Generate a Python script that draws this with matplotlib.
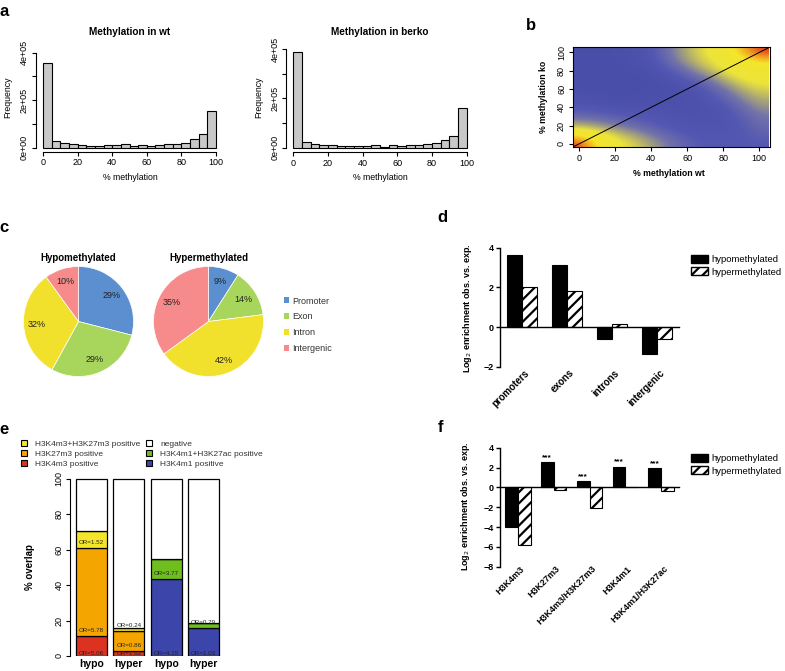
import numpy as np
import matplotlib
matplotlib.use("Agg")
import matplotlib.pyplot as plt
from matplotlib.patches import Patch
from matplotlib.colors import LinearSegmentedColormap

plt.rcParams['font.family'] = ['Liberation Sans', 'DejaVu Sans']
plt.rcParams['hatch.linewidth'] = 1.6
plt.rcParams['axes.linewidth'] = 0.8

# ---- a: histograms of % methylation (5% bins) ----
hist_edges = np.arange(0, 101, 5)
wt_freq = [3.58e5, 2.8e4, 1.8e4, 1.4e4, 1.3e4, 0.8e4, 0.8e4, 1.0e4, 1.0e4, 1.4e4,
           0.7e4, 1.3e4, 0.8e4, 1.0e4, 1.4e4, 1.7e4, 2.1e4, 3.6e4, 5.7e4, 1.55e5]
berko_freq = [3.88e5, 2.4e4, 1.5e4, 1.2e4, 1.0e4, 0.8e4, 0.8e4, 0.8e4, 0.7e4, 1.0e4,
              0.5e4, 1.0e4, 0.8e4, 1.0e4, 1.2e4, 1.4e4, 1.9e4, 3.1e4, 4.7e4, 1.6e5]

# ---- b: smoothed density wt vs ko, grid every 10% (rows = ko, cols = wt) ----
dens_pos = np.arange(0, 101, 10)
dens = [
    [1.00, 0.72, 0.58, 0.52, 0.42, 0.30, 0.20, 0.15, 0.15, 0.15, 0.15],
    [0.72, 0.62, 0.52, 0.43, 0.32, 0.22, 0.15, 0.12, 0.12, 0.14, 0.20],
    [0.46, 0.41, 0.33, 0.25, 0.18, 0.12, 0.10, 0.10, 0.10, 0.15, 0.25],
    [0.25, 0.22, 0.18, 0.14, 0.12, 0.10, 0.08, 0.08, 0.10, 0.18, 0.30],
    [0.12, 0.10, 0.08, 0.08, 0.08, 0.06, 0.06, 0.08, 0.12, 0.25, 0.38],
    [0.06, 0.05, 0.04, 0.04, 0.05, 0.05, 0.06, 0.10, 0.20, 0.35, 0.45],
    [0.04, 0.03, 0.03, 0.03, 0.04, 0.05, 0.08, 0.15, 0.30, 0.45, 0.52],
    [0.03, 0.03, 0.03, 0.03, 0.04, 0.08, 0.15, 0.28, 0.45, 0.55, 0.58],
    [0.03, 0.03, 0.03, 0.04, 0.06, 0.15, 0.30, 0.45, 0.55, 0.60, 0.62],
    [0.03, 0.03, 0.04, 0.05, 0.10, 0.25, 0.42, 0.52, 0.58, 0.66, 0.76],
    [0.03, 0.03, 0.04, 0.06, 0.12, 0.30, 0.45, 0.55, 0.62, 0.80, 1.00],
]

# ---- c: genomic distribution (%) ----
pie_labels = ['Promoter', 'Exon', 'Intron', 'Intergenic']
hypo_pct = [29, 29, 32, 10]
hyper_pct = [9, 14, 42, 35]
pie_colors = ['#5B8FD0', '#A8D65C', '#F2E12C', '#F78A8A']

# ---- d: log2 enrichment by genomic feature ----
d_cats = ['promoters', 'exons', 'introns', 'intergenic']
d_hypo = [3.65, 3.14, -0.59, -1.36]
d_hyper = [2.0, 1.82, 0.15, -0.59]

# ---- e: % overlap with histone marks ----
e_names = ['hypo', 'hyper', 'hypo', 'hyper']
e_layer1 = [11.3, 3.0, 43.5, 16.0]
e_layer2 = [49.7, 11.1, 11.3, 2.8]
e_layer3 = [9.6, 1.9, 0.0, 0.0]
e_or1 = ['OR=5.06', 'OR=1.62', 'OR=4.15', 'OR=1.03']
e_or2 = ['OR=5.78', 'OR=0.86', 'OR=3.77', 'OR=0.79']
e_or3 = ['OR=1.52', 'OR=0.24', '', '']
e_col1 = ['#DC3222', '#DC3222', '#3C46AA', '#3C46AA']
e_col2 = ['#F5A500', '#F5A500', '#6EBE1E', '#6EBE1E']
e_col3 = ['#F5E52A', '#F5E52A', '#F5E52A', '#F5E52A']
e_leg1 = ['H3K4m3+H3K27m3 positive', 'H3K27m3 positive', 'H3K4m3 positive']
e_leg2 = ['negative', 'H3K4m1+H3K27ac positive', 'H3K4m1 positive']

# ---- f: log2 enrichment by histone mark ----
f_cats = ['H3K4m3', 'H3K27m3', 'H3K4m3/H3K27m3', 'H3K4m1', 'H3K4m1/H3K27ac']
f_hypo = [-4.0, 2.57, 0.63, 2.1, 1.97]
f_hyper = [-5.83, -0.23, -2.1, 0.08, -0.4]
f_stars = ['', '***', '***', '***', '***']

W, H = 785, 671
fig = plt.figure(figsize=(W / 100, H / 100), dpi=100)


def px_axes(l, t, r, b):
    return fig.add_axes([l / W, 1 - b / H, (r - l) / W, (b - t) / H])


def ftext(x, y, s, **kw):
    kw.setdefault('ha', 'center')
    kw.setdefault('va', 'center')
    fig.text(x / W, 1 - y / H, s, **kw)


# panel letters
for letter, x, y in [('a', 4, 11), ('b', 531, 25), ('c', 4, 228),
                     ('d', 442, 218), ('e', 4, 429), ('f', 440, 428)]:
    ftext(x, y, letter, fontsize=12, fontweight='bold')

# ---------------- a ----------------
for freq, box, title, cx in [(wt_freq, (36, 48.7, 223, 151.5), 'Methylation in wt', 130),
                             (berko_freq, (286.4, 45, 473.6, 151.7), 'Methylation in berko', 380)]:
    ax = px_axes(*box)
    ax.bar(hist_edges[:-1], freq, width=5, align='edge', color='#C8C8C8',
           edgecolor='black', linewidth=0.8)
    ax.set_xlim(-4, 104)
    ax.set_ylim(-1.6e4, 4.16e5)
    for s in ['top', 'right']:
        ax.spines[s].set_visible(False)
    ax.spines['left'].set_bounds(0, 4e5)
    ax.spines['bottom'].set_bounds(0, 100)
    ax.set_xticks([0, 20, 40, 60, 80, 100])
    ax.set_yticks([0, 1e5, 2e5, 3e5, 4e5])
    ax.set_yticklabels(['0e+00', '', '2e+05', '', '4e+05'])
    ax.tick_params(labelsize=6.5, length=3, width=0.8, pad=2)
    for lab in ax.get_yticklabels():
        lab.set_rotation(90)
        lab.set_va('center')
    ftext(cx, 32, title, fontsize=7.2, fontweight='bold')
    ftext(cx, 178, '% methylation', fontsize=6.3)
    ftext(box[0] - 28, 97, 'Frequency', fontsize=6.3, rotation=90)

# ---------------- b ----------------
dens_cmap = LinearSegmentedColormap.from_list('dens', [
    (0.0, '#474CA6'), (0.15, '#5558B2'), (0.3, '#7474A8'), (0.42, '#A8A578'),
    (0.55, '#EDE43A'), (0.72, '#F5E52A'), (0.85, '#F0A020'), (1.0, '#E23A1E')])
ax = px_axes(573, 47, 770, 147)
ax.imshow(dens, origin='lower', cmap=dens_cmap, vmin=0, vmax=1, aspect='auto',
          interpolation='bicubic',
          extent=(dens_pos[0] - 5, dens_pos[-1] + 5, dens_pos[0] - 5, dens_pos[-1] + 5))
ax.axline((0, 0), slope=1, color='black', linewidth=0.7)
ax.set_xlim(-3.3, 106)
ax.set_ylim(-3.3, 106)
ax.set_xticks([0, 20, 40, 60, 80, 100])
ax.set_yticks([0, 20, 40, 60, 80, 100])
ax.tick_params(labelsize=6.5, length=3, width=0.8, pad=2)
for lab in ax.get_yticklabels():
    lab.set_rotation(90)
    lab.set_va('center')
ftext(669, 174, '% methylation wt', fontsize=6.3, fontweight='bold')
ftext(543, 97, '% methylation ko', fontsize=6.3, fontweight='bold', rotation=90)

# ---------------- c ----------------
for pct, box, title in [(hypo_pct, (23.5, 266.5, 133.5, 376.5), 'Hypomethylated'),
                        (hyper_pct, (153.5, 266.5, 263.5, 376.5), 'Hypermethylated')]:
    ax = px_axes(*box)
    ax.pie(pct, colors=pie_colors, startangle=90, counterclock=False,
           autopct=lambda p: f'{p:.0f}%', pctdistance=0.76,
           textprops=dict(fontsize=6.5, color='#222222'),
           wedgeprops=dict(linewidth=0.5, edgecolor='white'))
    ax.set_xlim(-1, 1)
    ax.set_ylim(-1, 1)
    ftext((box[0] + box[2]) / 2, 258, title, fontsize=7, fontweight='bold')
fig.legend(handles=[Patch(facecolor=c, label=l) for c, l in zip(pie_colors, pie_labels)],
           loc='upper left', bbox_to_anchor=(279 / W, 1 - 292 / H), frameon=False,
           borderpad=0, handlelength=0.6, handleheight=0.6, handletextpad=0.35,
           labelspacing=0.75, fontsize=6.5, labelcolor='#333333')


# ---------------- d & f ----------------
def enrichment(box, cats, hypo, hyper, ylim, yticks, width, label_y, label_size,
               stars=None, leg_top=0):
    ax = px_axes(*box)
    x = np.arange(len(cats))
    ax.bar(x - width / 2, hypo, width, color='black', edgecolor='black', linewidth=0.8)
    ax.bar(x + width / 2, hyper, width, color='white', edgecolor='black', hatch='///',
           linewidth=0.8)
    if stars:
        for xi, v, s in zip(x, hypo, stars):
            ax.text(xi - width / 2, v + 0.05 * (ylim[1] - ylim[0]) / 6, s, ha='center',
                    va='bottom', fontsize=6, fontweight='bold')
    ax.set_xlim(-0.49, len(cats) - 0.51)
    ax.set_ylim(*ylim)
    for s in ['top', 'right']:
        ax.spines[s].set_visible(False)
    ax.spines['bottom'].set_position(('data', 0))
    ax.spines['left'].set_linewidth(1.0)
    ax.spines['bottom'].set_linewidth(1.0)
    ax.set_xticks([])
    ax.set_yticks(yticks)
    ax.tick_params(axis='y', labelsize=6.5, length=3, width=1.0, pad=1.5)
    for lab in ax.get_yticklabels():
        lab.set_fontweight('bold')
    for xi, c in zip(x, cats):
        ax.text(xi + 0.05, label_y, c, rotation=45, rotation_mode='anchor', ha='right',
                va='top', fontsize=label_size, fontweight='bold')
    fig.legend(handles=[Patch(facecolor='black', edgecolor='black', label='hypomethylated'),
                        Patch(facecolor='white', edgecolor='black', hatch='///',
                              label='hypermethylated')],
               loc='upper left', bbox_to_anchor=(686 / W, 1 - leg_top / H), frameon=False,
               borderpad=0, handlelength=1.85, handleheight=0.95, handletextpad=0.3,
               labelspacing=0.35, fontsize=6.8)
    return ax


enrichment((500, 247.7, 679, 366.7), d_cats, d_hypo, d_hyper, (-2, 4), [-2, 0, 2, 4],
           0.34, -2.05, 7, leg_top=250)
ftext(468, 308, 'Log$_2$ enrichment obs. vs. exp.', fontsize=6.5, fontweight='bold',
      rotation=90)

enrichment((500, 447.7, 679, 566.7), f_cats, f_hypo, f_hyper, (-8, 4),
           [-8, -6, -4, -2, 0, 2, 4], 0.36, -7.75, 6.5, stars=f_stars, leg_top=449)
ftext(466, 506, 'Log$_2$ enrichment obs. vs. exp.', fontsize=6.5, fontweight='bold',
      rotation=90)

# ---------------- e ----------------
ax = px_axes(70.3, 471.9, 224.8, 656)
ex = 0.7 + 1.2 * np.arange(len(e_names))
b1 = np.array(e_layer1)
b2 = b1 + np.array(e_layer2)
b3 = b2 + np.array(e_layer3)
ax.bar(ex, e_layer1, 1.0, color=e_col1, edgecolor='black', linewidth=0.9)
ax.bar(ex, e_layer2, 1.0, bottom=b1, color=e_col2, edgecolor='black', linewidth=0.9)
ax.bar(ex, e_layer3, 1.0, bottom=b2, color=e_col3, edgecolor='black', linewidth=0.9)
ax.bar(ex, 100 - b3, 1.0, bottom=b3, color='white', edgecolor='black', linewidth=0.9)
for xi, s in zip(ex, e_or1):
    ax.text(xi, 1.6, s, ha='center', va='center', fontsize=4.5, color='#222222')
for xi, y0, s in zip(ex, b1, e_or2):
    ax.text(xi, y0 + 3, s, ha='center', va='center', fontsize=4.5, color='#222222')
for xi, y0, s in zip(ex, b2, e_or3):
    ax.text(xi, y0 + 3, s, ha='center', va='center', fontsize=4.5, color='#222222')
ax.set_xlim(0.016, 4.984)
ax.set_ylim(0, 104)
for s in ['top', 'right', 'bottom']:
    ax.spines[s].set_visible(False)
ax.spines['left'].set_bounds(0, 100)
ax.set_yticks([0, 20, 40, 60, 80, 100])
ax.set_xticks(ex)
ax.set_xticklabels(e_names, fontsize=7.5, fontweight='bold')
ax.tick_params(axis='x', length=0, pad=2.5)
ax.tick_params(axis='y', labelsize=6.5, length=3, width=0.8, pad=2)
for lab in ax.get_yticklabels():
    lab.set_rotation(90)
    lab.set_va('center')
ftext(30, 567, '% overlap', fontsize=7, fontweight='bold', rotation=90)

fig.legend(handles=[Patch(facecolor=c, edgecolor='black', linewidth=0.8, label=l)
                    for c, l in zip(['#F5E52A', '#F5A500', '#DC3222'], e_leg1)],
           loc='upper left', bbox_to_anchor=(17 / W, 1 - 436 / H), frameon=False,
           borderpad=0, handlelength=0.75, handleheight=0.75, handletextpad=0.9,
           labelspacing=0.25, fontsize=6, labelcolor='#333333')
fig.legend(handles=[Patch(facecolor=c, edgecolor='black', linewidth=0.8, label=l)
                    for c, l in zip(['white', '#6EBE1E', '#3C46AA'], e_leg2)],
           loc='upper left', bbox_to_anchor=(142 / W, 1 - 436 / H), frameon=False,
           borderpad=0, handlelength=0.75, handleheight=0.75, handletextpad=0.9,
           labelspacing=0.25, fontsize=6, labelcolor='#333333')

fig.savefig('out.png', dpi=100)
